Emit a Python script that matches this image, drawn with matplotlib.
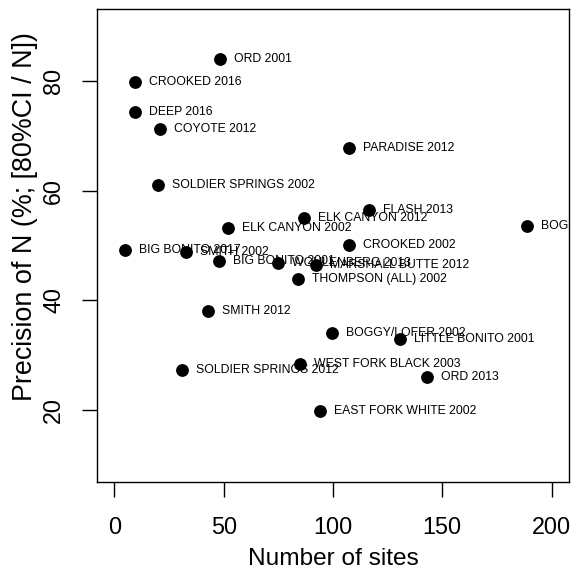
import matplotlib
matplotlib.use("Agg")
import matplotlib.pyplot as plt

plt.rcParams['font.family'] = ['Liberation Sans', 'DejaVu Sans']

# Survey populations: number of sites vs. precision of the abundance estimate
names = [
    "ORD 2001", "CROOKED 2016", "DEEP 2016", "COYOTE 2012", "PARADISE 2012",
    "SOLDIER SPRINGS 2002", "FLASH 2013", "ELK CANYON 2012", "BOGGY/LOFER 2013",
    "ELK CANYON 2002", "CROOKED 2002", "BIG BONITO 2017", "SMITH 2002",
    "BIG BONITO 2001", "WOHLENBERG 2013", "MARSHALL BUTTE 2012",
    "THOMPSON (ALL) 2002", "SMITH 2012", "BOGGY/LOFER 2002",
    "LITTLE BONITO 2001", "SOLDIER SPRINGS 2012", "WEST FORK BLACK 2003",
    "ORD 2013", "EAST FORK WHITE 2002",
]
n_sites = [48.4, 9.5, 9.5, 20.7, 107.4, 20.0, 116.6, 86.8, 188.7,
           52.0, 107.4, 4.9, 32.8, 47.9, 74.8, 92.3, 84.2, 42.9, 99.4,
           130.7, 30.8, 85.0, 143.0, 94.1]
precision = [84.1, 79.9, 74.4, 71.3, 67.8, 61.1, 56.5, 55.0, 53.6,
             53.2, 50.1, 49.1, 48.8, 47.2, 46.8, 46.5, 43.9, 38.1, 34.1,
             32.9, 27.2, 28.4, 26.0, 19.7]

x_ticks = [0, 50, 100, 150, 200]
y_ticks = [20, 40, 60, 80]

fig = plt.figure(figsize=(5.73, 5.73), dpi=100)
ax = fig.add_axes([97 / 573, 1 - 482 / 573, (569 - 97) / 573, (482 - 9) / 573])

ax.scatter(n_sites, precision, s=85, color="black", zorder=3, linewidths=0)
for name, xv, yv in zip(names, n_sites, precision):
    ax.annotate(name, (xv, yv), xytext=(10, 0), textcoords="offset points",
                ha="left", va="center", fontsize=8.8, color="black",
                annotation_clip=False, clip_on=True)

ax.set_xlim(-8, 208)
ax.set_ylim(6.8, 93.2)
ax.set_xticks(x_ticks)
ax.set_yticks(y_ticks)
ax.tick_params(axis="both", direction="out", length=10.8, width=1.0,
               labelsize=16.8, pad=14)
ax.tick_params(axis="y", labelrotation=90, pad=12)
for lbl in ax.get_yticklabels():
    lbl.set_va("center")

for sp in ax.spines.values():
    sp.set_linewidth(1.0)

ax.set_xlabel("Number of sites", fontsize=17.6, labelpad=6)
ax.set_ylabel("Precision of N (%; [80%CI / N])", fontsize=19.4)
ax.yaxis.set_label_coords((38 - 97) / 472, (482 - 217) / 473)

fig.savefig("out.png", dpi=100)
